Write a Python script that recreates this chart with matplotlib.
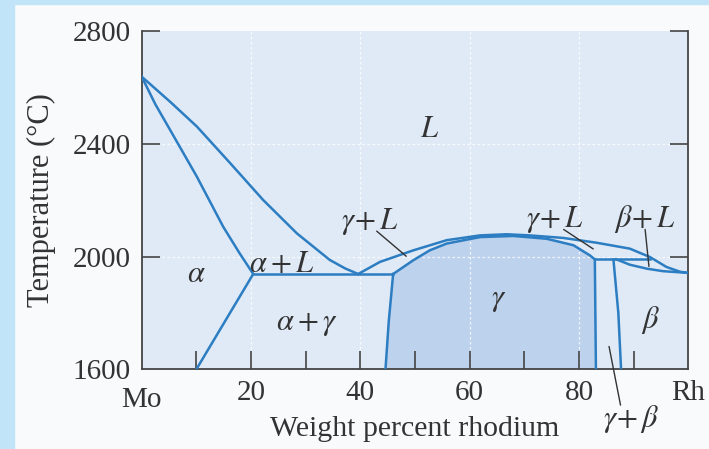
import numpy as np
import matplotlib
matplotlib.use("Agg")
import matplotlib.pyplot as plt
from matplotlib.patches import Rectangle

plt.rcParams["mathtext.fontset"] = "stix"

# phase boundaries (wt% Rh, temperature in C)
liq_left_x = [0, 5.2, 10.1, 16.2, 22.2, 28.4, 34.4, 37.2, 39.6]
liq_left_t = [2638, 2549, 2461, 2331, 2201, 2082, 1988, 1958, 1938]

sol_alpha_x = [0, 2.5, 5.2, 10.1, 14.9, 17.8, 20.4]
sol_alpha_t = [2638, 2540, 2449, 2283, 2106, 2015, 1938]

alpha_gamma_x = [20.4, 10]
alpha_gamma_t = [1938, 1600]

eutectic_x = [20.4, 46]
eutectic_t = [1938, 1938]

liq_right_x = [39.6, 43.6, 49.7, 55.8, 61.9, 66.8, 71, 77.1, 83.2, 89.3, 93, 96, 98.5, 100]
liq_right_t = [1938, 1981, 2022, 2058, 2075, 2079, 2075, 2066, 2049, 2028, 1998, 1963, 1946, 1942]

sol_gamma_x = [46, 49.7, 52.7, 55.8, 61.9, 68, 74.1, 79, 82, 82.9]
sol_gamma_t = [1938, 1987, 2022, 2046, 2069, 2073, 2063, 2040, 2004, 1990]

gamma_left_x = [46, 45.2, 44.6]
gamma_left_t = [1938, 1770, 1600]

gamma_right_x = [82.9, 83.1]
gamma_right_t = [1990, 1600]

peritectic_x = [82.9, 93]
peritectic_t = [1990, 1990]

beta_left_x = [86.3, 87.2, 87.7]
beta_left_t = [1990, 1800, 1600]

sol_beta_x = [86.8, 87.5, 89.3, 92.4, 95.4, 100]
sol_beta_t = [1990, 1985, 1971, 1957, 1948, 1942]

x_ticks = [0, 20, 40, 60, 80, 100]
x_ticklabels = ["Mo", "20", "40", "60", "80", "Rh"]
y_ticks = [1600, 2000, 2400, 2800]

line_c = "#2c7dc2"
text_c = "#333333"
serif = ["Liberation Serif", "DejaVu Serif"]

fig = plt.figure(figsize=(7.09, 4.49), dpi=100, facecolor="#f8fafc")
# light blue frame strips (left and top)
fig.patches.append(Rectangle((0, 0), 14 / 709, 1, transform=fig.transFigure,
                             color="#c2e4f9", zorder=0))
fig.patches.append(Rectangle((0, 1 - 4 / 449), 1, 4 / 449, transform=fig.transFigure,
                             color="#c2e4f9", zorder=0))

ax = fig.add_axes([141.7 / 709, 1 - 369.3 / 449, (688.3 - 141.7) / 709, (369.3 - 31) / 449])
ax.set_facecolor("#dfeaf6")
ax.set_xlim(0, 100)
ax.set_ylim(1600, 2800)

# gamma single phase region shading
gx = np.concatenate([gamma_left_x[::-1], sol_gamma_x, gamma_right_x[1:]])
gt = np.concatenate([gamma_left_t[::-1], sol_gamma_t, gamma_right_t[1:]])
ax.fill(gx, gt, color="#bdd2ed", zorder=1, lw=0)

# faint white grid
for gxv in [20, 40, 60, 80]:
    ax.axvline(gxv, color="white", lw=0.9, ls=(0, (2, 2)), alpha=0.8, zorder=1.5)
for gtv in [2000, 2400]:
    ax.axhline(gtv, color="white", lw=0.9, ls=(0, (2, 2)), alpha=0.8, zorder=1.5)

lw = 1.8
for xs, ts in [(liq_left_x, liq_left_t), (sol_alpha_x, sol_alpha_t),
               (alpha_gamma_x, alpha_gamma_t), (eutectic_x, eutectic_t),
               (liq_right_x, liq_right_t), (sol_gamma_x, sol_gamma_t),
               (gamma_left_x, gamma_left_t), (gamma_right_x, gamma_right_t),
               (peritectic_x, peritectic_t), (beta_left_x, beta_left_t),
               (sol_beta_x, sol_beta_t)]:
    ax.plot(xs, ts, color=line_c, lw=lw, solid_joinstyle="round", zorder=3)

# spines and ticks
ax.spines["top"].set_visible(False)
for s in ["left", "right", "bottom"]:
    ax.spines[s].set_color("#444444")
    ax.spines[s].set_linewidth(1.3)
ax.set_xticks(x_ticks)
ax.set_xticklabels(x_ticklabels)
ax.set_xticks([10, 30, 50, 70, 90], minor=True)
ax.set_yticks(y_ticks)
ax.set_yticklabels([str(v) for v in y_ticks])
ax.tick_params(axis="x", which="both", direction="in", length=13, width=1.2,
               color="#444444", pad=8)
ax.tick_params(axis="y", direction="in", length=13, width=1.2, color="#444444",
               right=True, pad=8)
for lab in ax.get_xticklabels() + ax.get_yticklabels():
    lab.set_fontfamily(serif)
    lab.set_fontsize(21)
    lab.set_color(text_c)
# no ticks drawn at the corners
ax.xaxis.get_major_ticks()[0].tick1line.set_visible(False)
ax.xaxis.get_major_ticks()[-1].tick1line.set_visible(False)
ax.yaxis.get_major_ticks()[0].tick1line.set_visible(False)
ax.yaxis.get_major_ticks()[0].tick2line.set_visible(False)
# "Mo" sits a little lower than the other labels
ax.xaxis.get_major_ticks()[0].set_pad(13)

ax.set_xlabel("Weight percent rhodium", fontfamily=serif, fontsize=21.5, color=text_c, labelpad=2)
ax.set_ylabel("Temperature (\u00b0C)", fontfamily=serif, fontsize=22, color=text_c, labelpad=12)

lab_kw = dict(fontsize=22, color=text_c, ha="center", va="center", zorder=4)
ax.text(52.6, 2453, "$L$", **lab_kw)
ax.text(10, 1941, r"$\alpha$", **lab_kw)
ax.text(25.7, 1977, r"$\alpha + L$", **lab_kw)
ax.text(30.2, 1763, r"$\alpha + \gamma$", **lab_kw)
ax.text(65.3, 1846, r"$\gamma$", **lab_kw)
ax.text(93, 1775, r"$\beta$", **lab_kw)
ax.text(41.8, 2126, r"$\gamma\!+L$", **lab_kw)
ax.text(75.6, 2132, r"$\gamma\!+L$", **lab_kw)
ax.text(92.1, 2132, r"$\beta\!+L$", **lab_kw)
ax.text(89.5, 1424, r"$\gamma\!+\beta$", clip_on=False, **lab_kw)

ann_kw = dict(arrowprops=dict(arrowstyle="-", color="#333333", lw=1.0, shrinkA=0, shrinkB=0),
              annotation_clip=False)
ax.annotate("", xy=(48.4, 2001), xytext=(43, 2090), **ann_kw)
ax.annotate("", xy=(82.6, 2027), xytext=(77.2, 2096), **ann_kw)
ax.annotate("", xy=(92.8, 1965), xytext=(92.1, 2096), **ann_kw)
ax.annotate("", xy=(85.5, 1681), xytext=(87.6, 1473), **ann_kw)

fig.savefig("out.png", dpi=100, facecolor=fig.get_facecolor())
